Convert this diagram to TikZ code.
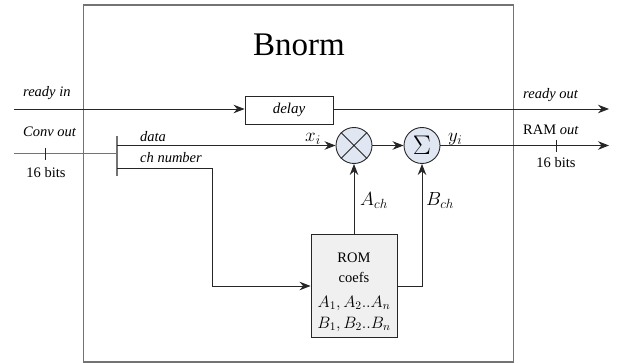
\RequirePackage{fix-cm}
\documentclass[tikz,border=0pt]{standalone}
\usepackage{fontspec}
\setmainfont{Liberation Serif}
\usetikzlibrary{arrows.meta,calc}
\definecolor{opfill}{RGB}{224,231,243}
\definecolor{romfill}{RGB}{240,240,240}
\begin{document}
\begin{tikzpicture}[x=1pt,y=-1pt,
  every node/.style={font=\fontsize{14.5}{17}\selectfont},
  wire/.style={draw=black!85,line width=0.9pt},
  bus/.style={draw=black!55,line width=1.4pt},
  sig/.style={wire,-{Stealth[length=11pt,width=8.5pt]}},
  opcirc/.style={circle,draw=black!85,line width=0.9pt,fill=opfill,minimum size=36pt,inner sep=0pt},
  blockbox/.style={draw=black!85,line width=0.9pt,inner sep=0pt},
  lbl/.style={inner sep=1pt,font=\fontsize{14.5}{17}\selectfont\itshape},
  mlbl/.style={inner sep=1pt,font=\fontsize{19}{22}\selectfont},
  romtxt/.style={anchor=base,inner sep=0pt},
  rommath/.style={romtxt,font=\fontsize{16.5}{19}\selectfont}]
\useasboundingbox (0,0) rectangle (620,363);
% enclosing block
\node[draw=black!55,line width=1.4pt,minimum width=430pt,minimum height=357pt,inner sep=0pt] (frame) at (298.5,183.5) {};
\node[font=\fontsize{33}{36}\selectfont] (title) at (299,45) {Bnorm};
% ready path
\coordinate (rin) at (14,109);
\node[blockbox,minimum width=88pt,minimum height=28pt,font=\fontsize{15}{17}\selectfont\itshape] (delay) at (289,110) {delay};
\coordinate (rout) at (609,109);
\draw[sig] (rin) -- (rin -| delay.west);
\draw[sig] (delay.east |- rout) -- (rout);
\node[lbl,anchor=base west] (rinl) at (22,97) {ready in};
\node[lbl,anchor=base west] (routl) at (522,99) {ready out};
% input bus
\coordinate (cin) at (14,153.5);
\coordinate (split) at (117,153.5);
\coordinate (bt) at (117,136);
\coordinate (bb) at (117,176);
\draw[bus] (cin) -- (split);
\draw[bus] (bt) -- (bb);
\coordinate (tk1) at (45,148);
\coordinate (tk2) at (45,160);
\draw[wire] (tk1) -- (tk2);
\node[lbl,anchor=base west] (cinl) at (22,137) {Conv out};
\node[anchor=base,inner sep=1pt] (cinb) at (46,178) {16 bits};
% operators
\node[opcirc] (mul) at (354,145.5) {};
\draw[wire] (mul.north west) -- (mul.south east) (mul.north east) -- (mul.south west);
\node[opcirc,font=\fontsize{27}{29}\selectfont] (sum) at (422,145.5) {$\Sigma$};
% data path
\coordinate (dstart) at (117,145.5);
\draw[sig] (dstart) -- (mul.west);
\node[lbl,anchor=base west] (datal) at (139,142) {data};
\node[mlbl,anchor=base west] (xi) at (304,141.5) {$x_i$};
\draw[sig] (mul.east) -- (sum.west);
\coordinate (yout) at (609,145.5);
\draw[sig] (sum.east) -- (yout);
\node[mlbl,anchor=base west] (yi) at (447,141.5) {$y_i$};
\node[anchor=base west,inner sep=1pt] (ramout) at (522,135) {RAM \textit{out}};
\coordinate (tk3) at (556,140);
\coordinate (tk4) at (556,152);
\draw[wire] (tk3) -- (tk4);
\node[anchor=base,inner sep=1pt] (routb) at (556,168) {16 bits};
% coefficient memory
\node[blockbox,fill=romfill,minimum width=86pt,minimum height=103pt] (rom) at (354,285.5) {};
\node[romtxt] (romt) at (354,262) {ROM};
\node[romtxt] (romc) at (354,282) {coefs};
\node[rommath] (roma) at (354,307) {$A_1,A_2..A_n$};
\node[rommath] (romb) at (354,328) {$B_1,B_2..B_n$};
% channel number path
\coordinate (chs) at (117,168.5);
\coordinate (chc) at (212,168.5);
\coordinate (chd) at (212,286);
\draw[sig] (chs) -- (chc) -- (chd) -- (chd -| rom.west);
\node[lbl,anchor=base west] (chl) at (139,163) {ch number};
% coefficients to operators
\draw[sig] (rom.north -| mul) -- (mul.south);
\node[mlbl,anchor=base west] (ach) at (359,206) {$A_{ch}$};
\coordinate (bcor) at (422,286);
\draw[sig] (rom.east |- bcor) -- (bcor) -- (sum.south);
\node[mlbl,anchor=base west] (bch) at (425,206) {$B_{ch}$};
\end{tikzpicture}
\end{document}
